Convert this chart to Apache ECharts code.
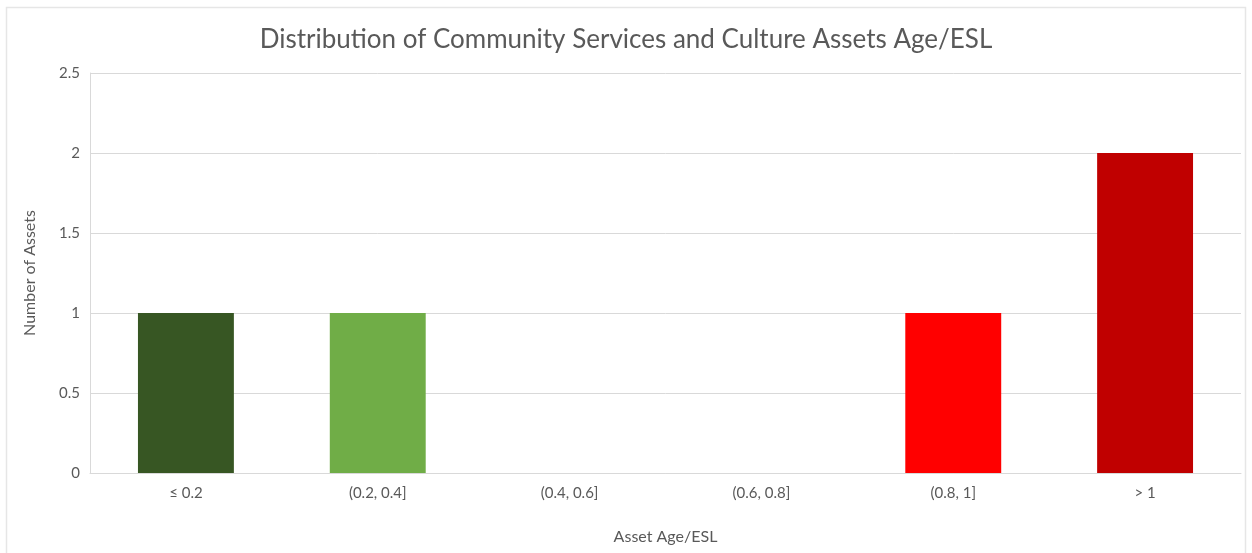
<!DOCTYPE html>
<html>
<head>
<meta charset="utf-8">
<script src="https://cdn.jsdelivr.net/npm/echarts@6/dist/echarts.min.js"></script>
<style>
  html, body { margin: 0; padding: 0; background: #fff; }
  #chart { width: 1252px; height: 553px; }
</style>
</head>
<body>
<div id="chart"></div>
<script>
// Age/ESL bands and the number of assets falling in each
const categories = ['≤ 0.2', '(0.2, 0.4]', '(0.4, 0.6]', '(0.6, 0.8]', '(0.8, 1]', '> 1'];
const assetCounts = [1, 1, 0, 0, 1, 2];
const barColors = ['#375623', '#70AD47', '#A9D08E', '#FFC000', '#FF0000', '#C00000'];
const yTicks = [0, 0.5, 1, 1.5, 2, 2.5];

const FONT = 'Lato, "Open Sans", sans-serif';
const TEXT = '#595959';

const chart = echarts.init(document.getElementById('chart'), null, { renderer: 'canvas' });
chart.setOption({
  backgroundColor: '#ffffff',
  animation: false,
  title: {
    text: 'Distribution of Community Services and Culture Assets Age/ESL',
    left: 'center',
    top: 22,
    textStyle: { fontFamily: FONT, fontSize: 26, fontWeight: 'normal', color: TEXT }
  },
  graphic: [{
    type: 'rect',
    shape: { x: 6.5, y: 7.5, width: 1239, height: 560 },
    style: { fill: 'none', stroke: '#e6e6e6', lineWidth: 1.5 },
    silent: true
  }],
  grid: { left: 90, right: 11, top: 73, bottom: 80, containLabel: false },
  xAxis: {
    type: 'category',
    data: categories,
    name: 'Asset Age/ESL',
    nameLocation: 'middle',
    nameGap: 56,
    nameTextStyle: { fontFamily: FONT, fontSize: 16, color: TEXT },
    axisLine: { show: true, lineStyle: { color: '#d9d9d9', width: 1 } },
    axisTick: { show: false },
    axisLabel: { fontFamily: FONT, fontSize: 15, color: TEXT, margin: 13 }
  },
  yAxis: {
    type: 'value',
    min: yTicks[0],
    max: yTicks[yTicks.length - 1],
    interval: 0.5,
    name: 'Number of Assets',
    nameLocation: 'middle',
    nameGap: 52,
    nameTextStyle: { fontFamily: FONT, fontSize: 16, color: TEXT },
    axisLine: { show: true, lineStyle: { color: '#d9d9d9', width: 1 } },
    axisTick: { show: false },
    axisLabel: { fontFamily: FONT, fontSize: 15, color: TEXT, margin: 10 },
    splitLine: { lineStyle: { color: '#d9d9d9', width: 1 } }
  },
  series: [{
    type: 'bar',
    data: assetCounts.map((v, i) => ({ value: v, itemStyle: { color: barColors[i] } })),
    barCategoryGap: '50%'
  }]
});
</script>
</body>
</html>
